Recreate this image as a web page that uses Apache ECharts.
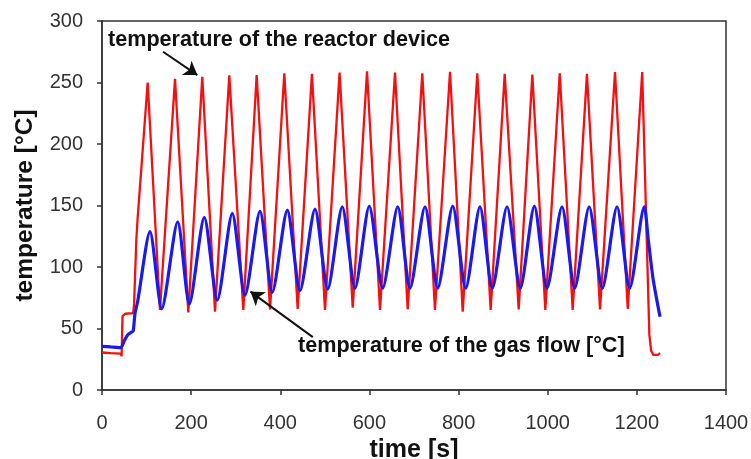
<!DOCTYPE html>
<html>
<head>
<meta charset="utf-8">
<script src="https://cdn.jsdelivr.net/npm/echarts@6/dist/echarts.min.js"></script>
<style>
  html, body { margin: 0; padding: 0; background: #fff; }
  #chart { width: 751px; height: 459px; }
</style>
</head>
<body>
<div id="chart"></div>
<script>
// time [s] and temperature [°C]
const reactorTime = [0, 20, 42, 44, 46, 52, 70, 72, 77, 80, 102.5, 130, 163.8, 193.6, 225, 253.5, 285.6, 317, 347, 377, 409, 439, 471, 500.3, 533, 562.5, 594.6, 623.7, 657.4, 685.8, 718.6, 747, 780.8, 809.3, 842, 872, 903.5, 934.9, 965.5, 994.6, 1027, 1056, 1088, 1117.4, 1151, 1179.6, 1212, 1228, 1232, 1237, 1247, 1252];
const reactorTemp = [30.5, 30, 29.5, 27.5, 60, 62, 62.5, 70, 122, 140, 250, 65, 253, 63, 254.7, 63.7, 255.8, 65, 256, 65.6, 257.4, 65.9, 257, 65, 258, 67, 259, 65, 258, 65.6, 257.5, 65, 258.7, 63.7, 257.5, 65, 257, 65.6, 256.5, 65, 257.5, 65, 257, 65.6, 258.5, 66, 258.5, 45, 32, 28.5, 28.5, 30];

const gasTime = [0, 20, 42, 50, 58, 66, 70, 74, 80, 107.7, 134, 169.8, 195.9, 229.5, 258.7, 292.3, 320.8, 354.5, 382.1, 415.8, 444.2, 477.9, 506.4, 539, 567.6, 599.7, 629.8, 663.5, 691, 724.7, 753.2, 786.9, 816, 848, 875.7, 908.7, 938.5, 970, 998.4, 1032, 1060.5, 1093, 1122.5, 1155.5, 1184, 1216.7, 1225.7, 1237, 1252];
const gasTemp = [35.5, 35, 34.5, 40, 45, 47, 48, 62, 72, 128.7, 66, 136.8, 70, 140.4, 73, 143.6, 77, 145.5, 79.4, 146.3, 80.7, 147, 81.9, 149, 82.7, 149.6, 82.7, 149, 82.7, 149, 82.7, 149.5, 82.7, 149, 82.7, 149, 82.7, 149.5, 82.7, 149, 82.7, 149, 82.7, 149, 82.7, 149, 122, 89, 59.5];

const xTicks = { min: 0, max: 1400, step: 200 };
const yTicks = { min: 0, max: 300, step: 50 };

const reactorLabel = "temperature of the reactor device";
const gasLabel = "temperature of the gas flow [°C]";
// arrow tail -> head, in data units
const reactorArrow = [[137, 275], [214, 256]];
const gasArrow = [[473, 43], [333, 80]];

const zip = (xs, ys) => xs.map((x, i) => [x, ys[i]]);
const font = "'Liberation Sans', Arial, sans-serif";

const chart = echarts.init(document.getElementById("chart"), null, { renderer: "canvas" });
const arrowLine = (pts) => [{ coord: pts[0] }, { coord: pts[1] }];

chart.setOption({
  animation: false,
  backgroundColor: "#fff",
  textStyle: { fontFamily: font },
  grid: { left: 102, right: 25, top: 21, bottom: 69, containLabel: false, outerBoundsMode: "none", show: true, borderColor: "#333", borderWidth: 1.5 },
  xAxis: {
    type: "value", min: xTicks.min, max: xTicks.max, interval: xTicks.step,
    name: "time [s]", nameLocation: "middle", nameGap: 44,
    nameTextStyle: { fontSize: 25, fontWeight: "bold", color: "#111", fontFamily: font },
    axisLine: { lineStyle: { color: "#333", width: 1.5 } },
    axisTick: { show: true, length: 5, lineStyle: { color: "#333", width: 1.5 } },
    axisLabel: { fontSize: 20, color: "#333", margin: 23, fontFamily: font, formatter: v => String(v) },
    splitLine: { show: false }
  },
  yAxis: {
    type: "value", min: yTicks.min, max: yTicks.max, interval: yTicks.step,
    name: "temperature [°C]", nameLocation: "middle", nameGap: 64,
    nameTextStyle: { fontSize: 24.5, fontWeight: "bold", color: "#111", fontFamily: font },
    axisLine: { show: true, lineStyle: { color: "#333", width: 1.5 } },
    axisTick: { show: true, length: 5, lineStyle: { color: "#333", width: 1.5 } },
    axisLabel: { fontSize: 20, color: "#333", margin: 19, fontFamily: font },
    splitLine: { show: false }
  },
  graphic: [
    { type: "text", left: 108, top: 29, style: { text: reactorLabel, font: "bold 21.6px " + font, fill: "#111" } },
    { type: "text", left: 298, top: 335, style: { text: gasLabel, font: "bold 21.6px " + font, fill: "#111" } }
  ],
  series: [
    {
      name: "reactor", type: "line", data: zip(reactorTime, reactorTemp),
      showSymbol: false, lineStyle: { color: "#f21010", width: 2.3 }, z: 2,
      markLine: {
        silent: true, symbol: ["none", "arrow"], symbolSize: 13,
        label: { show: false },
        lineStyle: { color: "#111", width: 2, type: "solid" },
        data: [arrowLine(reactorArrow), arrowLine(gasArrow)]
      }
    },
    {
      name: "gas", type: "line", data: zip(gasTime, gasTemp),
      showSymbol: false, smooth: 0.25, lineStyle: { color: "#1a1aee", width: 3.2 }, z: 3
    }
  ]
});
</script>
</body>
</html>
